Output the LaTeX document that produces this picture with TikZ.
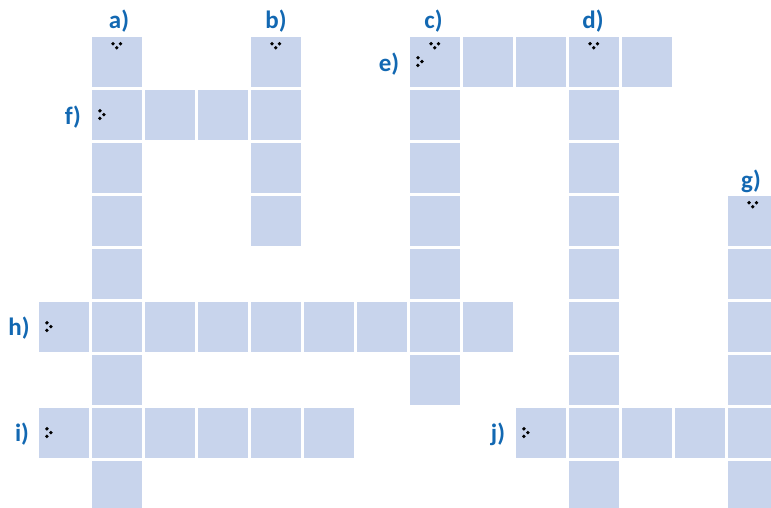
\documentclass[tikz,border=0pt]{standalone}
\usepackage{fontspec}
\setmainfont{Carlito}
\definecolor{cellc}{RGB}{200,212,236}
\definecolor{labc}{RGB}{18,104,178}
\newcommand\cellat[2]{\node[cellbox] (c-#1-#2) at ({38.5+53*#1},{36.5+53*#2}) {};}
\newcommand\dotstop[1]{%
  \fill ([shift={(-3.7,7.2)}]#1.north) circle (1.9);
  \fill ([shift={(3.7,7.2)}]#1.north) circle (1.9);
  \fill ([shift={(0,11.2)}]#1.north) circle (1.9);}
\newcommand\dotsleft[1]{%
  \fill ([shift={(8.4,-4)}]#1.west) circle (1.9);
  \fill ([shift={(8.4,3.6)}]#1.west) circle (1.9);
  \fill ([shift={(12.4,-0.2)}]#1.west) circle (1.9);}
\begin{document}
\begin{tikzpicture}[x=1pt,y=-1pt,
  cellbox/.style={fill=cellc, draw=none, minimum width=50.5pt, minimum height=50.5pt, inner sep=0pt, outer sep=0pt, anchor=north west},
  lab/.style={font=\bfseries\fontsize{25}{25}\selectfont, text=labc, inner sep=0pt}]
\useasboundingbox (0,0) rectangle (771,507);
\clip (0,0) rectangle (771,507);
% a) column 1, rows 0-8
\foreach \r in {0,...,8} {\cellat{1}{\r}}
% b) column 4, rows 0-3
\foreach \r in {0,...,3} {\cellat{4}{\r}}
% f) row 1, cols 2-3
\foreach \c in {2,3} {\cellat{\c}{1}}
% c) column 7, rows 0-6
\foreach \r in {0,...,6} {\cellat{7}{\r}}
% e) row 0, cols 8,9,11
\foreach \c in {8,9,11} {\cellat{\c}{0}}
% d) column 10, rows 0-8
\foreach \r in {0,...,8} {\cellat{10}{\r}}
% g) column 13, rows 3-8
\foreach \r in {3,...,8} {\cellat{13}{\r}}
% h) row 5
\foreach \c in {0,2,3,4,5,6,8} {\cellat{\c}{5}}
% i) row 7
\foreach \c in {0,2,3,4,5} {\cellat{\c}{7}}
% j) row 7
\foreach \c in {9,11,12} {\cellat{\c}{7}}
% markers
\dotstop{c-1-0}
\dotstop{c-4-0}
\dotstop{c-7-0}
\dotstop{c-10-0}
\dotstop{c-13-3}
\dotsleft{c-7-0}
\dotsleft{c-1-1}
\dotsleft{c-0-5}
\dotsleft{c-0-7}
\dotsleft{c-9-7}
% labels
\node[lab] (la) at (119,21) {a)};
\node[lab] (lb) at (276,21) {b)};
\node[lab] (lc) at (433.5,21) {c)};
\node[lab] (ld) at (593,21) {d)};
\node[lab] (lg) at (751,181) {g)};
\node[lab] (le) at (389,64) {e)};
\node[lab] (lf) at (73,117) {f)};
\node[lab] (lh) at (19,328) {h)};
\node[lab] (li) at (22,434) {i)};
\node[lab] (lj) at (498,434) {j)};
\end{tikzpicture}
\end{document}
